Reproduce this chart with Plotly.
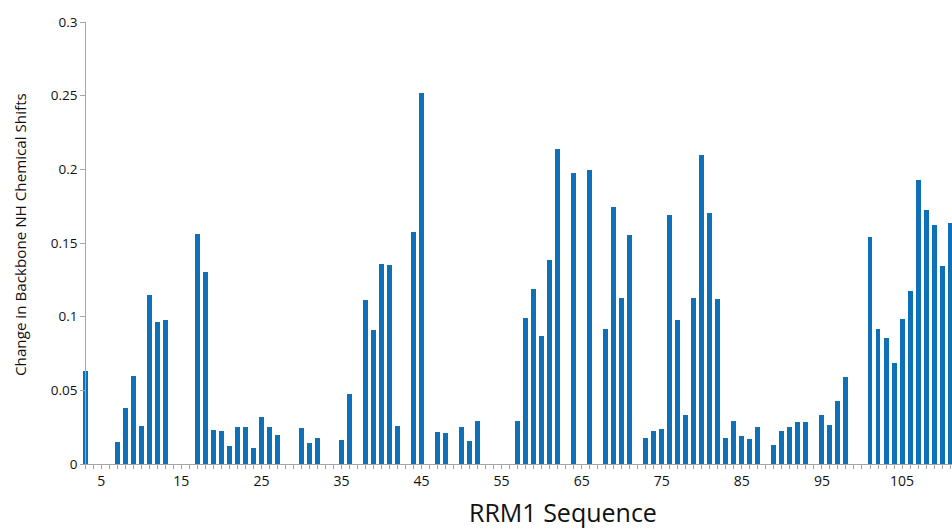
import plotly.graph_objects as go

residues = [3, 7, 8, 9, 10, 11, 12, 13, 17, 18, 19, 20, 21, 22, 23, 24, 25, 26, 27,
            30, 31, 32, 35, 36, 38, 39, 40, 41, 42, 44, 45, 47, 48, 50, 51, 52,
            57, 58, 59, 60, 61, 62, 64, 66, 68, 69, 70, 71, 73, 74, 75, 76, 77, 78,
            79, 80, 81, 82, 83, 84, 85, 86, 87, 89, 90, 91, 92, 93, 95, 96, 97, 98,
            101, 102, 103, 104, 105, 106, 107, 108, 109, 110, 111]
shifts = [0.0632, 0.0152, 0.0378, 0.0598, 0.0256, 0.1144, 0.0967, 0.0980, 0.1562, 0.1304,
          0.0231, 0.0224, 0.0122, 0.0249, 0.0249, 0.0109, 0.0317, 0.0251, 0.0197,
          0.0242, 0.0140, 0.0174, 0.0163, 0.0478, 0.1114, 0.0912, 0.1356, 0.1350, 0.0256,
          0.1574, 0.2518, 0.0217, 0.0208, 0.0251, 0.0156, 0.0294,
          0.0292, 0.0994, 0.1189, 0.0872, 0.1388, 0.2135, 0.1975, 0.1997, 0.0919, 0.1744,
          0.1130, 0.1556, 0.0174, 0.0222, 0.0240, 0.1689, 0.0978, 0.0333,
          0.1125, 0.2097, 0.1701, 0.1121, 0.0177, 0.0292, 0.0192, 0.0168, 0.0249,
          0.0129, 0.0224, 0.0251, 0.0288, 0.0288, 0.0335, 0.0267, 0.0430, 0.0591,
          0.1544, 0.0915, 0.0854, 0.0684, 0.0983, 0.1175, 0.1925, 0.1726, 0.1624, 0.1345, 0.1637]

y_ticks = [0, 0.05, 0.1, 0.15, 0.2, 0.25, 0.3]
y_tick_labels = ["0", "0.05", "0.1", "0.15", "0.2", "0.25", "0.3"]

x_title = "RRM1 Sequence"
y_title = "Change in Backbone NH Chemical Shifts"

FONT = "Open Sans"
AXIS_GRAY = "#A6A6A6"

fig = go.Figure()
fig.add_trace(go.Bar(
    x=residues, y=shifts, width=0.62,
    marker=dict(color="#0E71B8", line=dict(width=0)),
    showlegend=False,
))

fig.update_layout(
    width=952, height=530,
    margin=dict(l=82, r=0, t=22, b=66),
    paper_bgcolor="white", plot_bgcolor="white",
    font=dict(family=FONT, size=14, color="#111111"),
    bargap=0,
    xaxis=dict(
        range=[2.6, 111.24], domain=[0, 1],
        tickmode="linear", tick0=5, dtick=10,
        ticks="outside", ticklen=4, tickcolor=AXIS_GRAY, tickwidth=1,
        minor=dict(dtick=1, tick0=5, ticks="outside", ticklen=4, tickcolor=AXIS_GRAY, tickwidth=1, showgrid=False),
        showline=True, linecolor=AXIS_GRAY, linewidth=1,
        showgrid=False, zeroline=False,
        tickfont=dict(family=FONT, size=14, color="#111111"),
    ),
    yaxis=dict(
        range=[0, 0.3], anchor="free", position=3.2 / 870,
        tickmode="array", tickvals=y_ticks, ticktext=y_tick_labels,
        ticks="outside", ticklen=5, tickcolor=AXIS_GRAY, tickwidth=1,
        showline=True, linecolor=AXIS_GRAY, linewidth=1,
        showgrid=False, zeroline=False,
        tickfont=dict(family=FONT, size=13.5, color="#111111"),
    ),
    annotations=[
        dict(text=y_title, xref="paper", yref="paper", x=(20 - 82) / 870, y=(464 - 235) / 442,
             xanchor="center", yanchor="middle", textangle=-90, showarrow=False,
             font=dict(family=FONT, size=15.2, color="#111111")),
        dict(text=x_title, xref="paper", yref="paper", x=(563 - 82) / 870, y=(464 - 512) / 442,
             xanchor="center", yanchor="middle", showarrow=False,
             font=dict(family=FONT, size=25, color="#111111")),
    ],
)

fig.write_html("out.html")
